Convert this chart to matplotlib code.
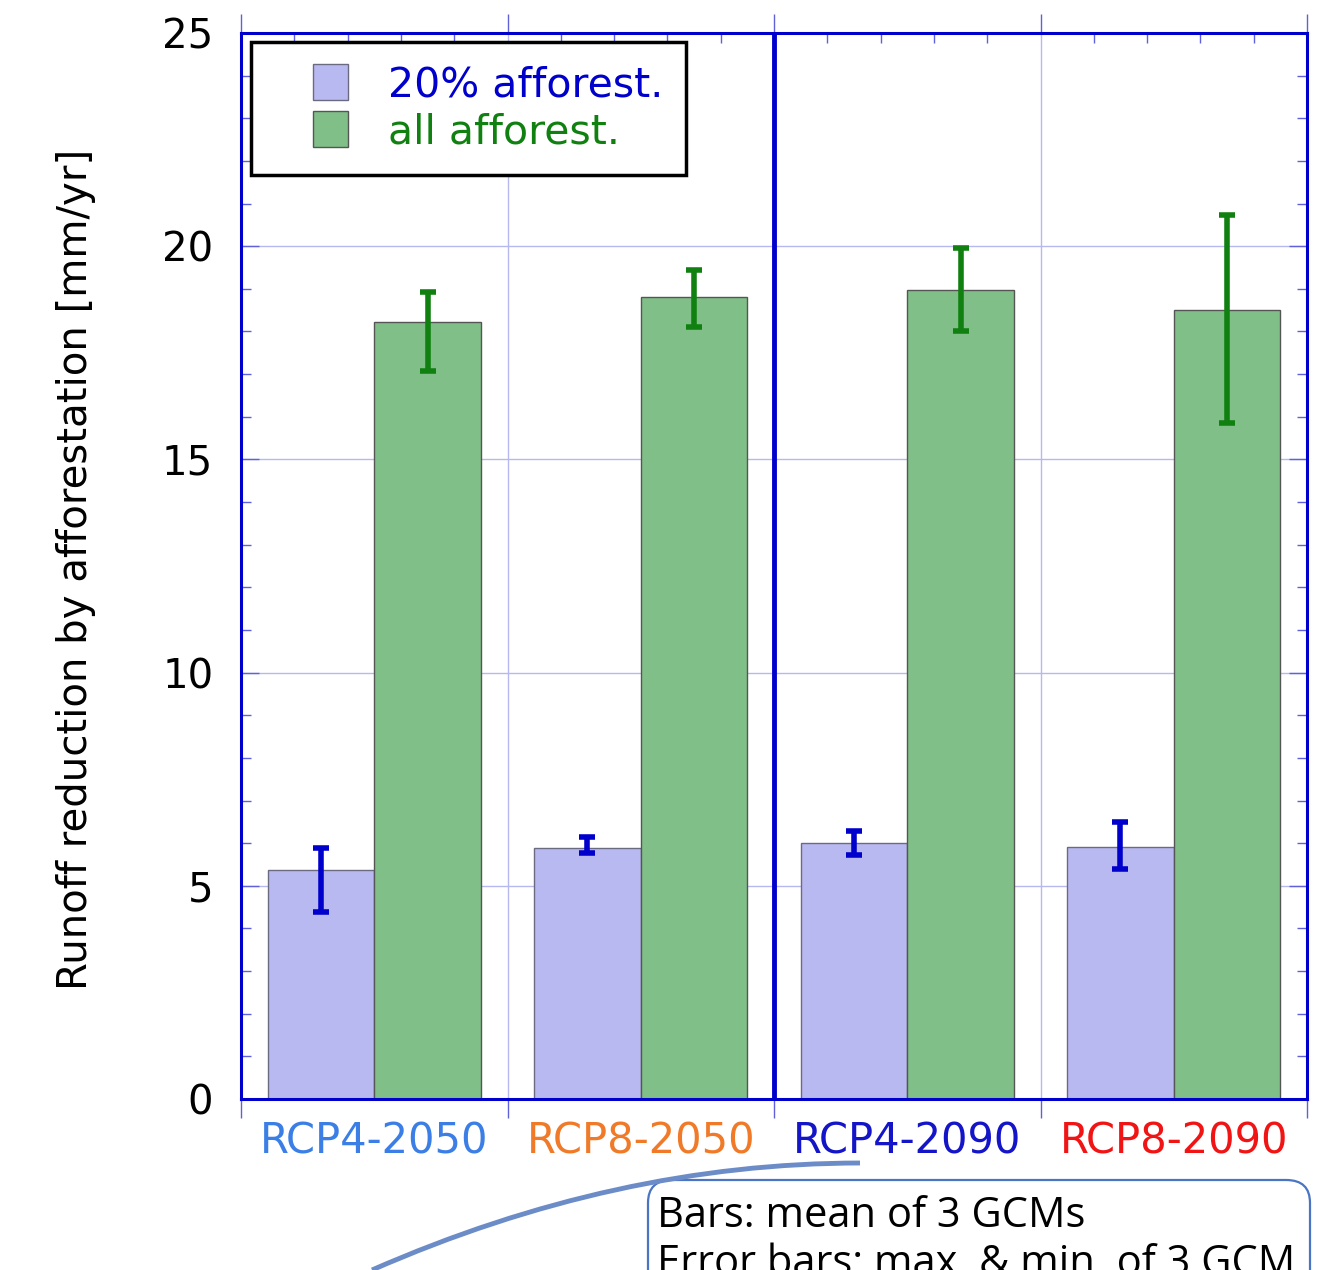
import numpy as np
import matplotlib
matplotlib.use("Agg")
import matplotlib.pyplot as plt
from matplotlib.patches import Patch, Rectangle, FancyBboxPatch, PathPatch
from matplotlib.legend_handler import HandlerPatch
from matplotlib.path import Path
from matplotlib.ticker import FixedLocator
import matplotlib.transforms as mtransforms

# data
cenarios = ["RCP4-2050", "RCP8-2050", "RCP4-2090", "RCP8-2090"]
cores_cenarios = ["#3b7ee6", "#f07a28", "#1414c8", "#f01414"]

media_20 = [5.36, 5.88, 6.00, 5.90]
max_20 = [5.88, 6.14, 6.29, 6.50]
min_20 = [4.38, 5.76, 5.72, 5.39]

media_all = [18.22, 18.81, 18.97, 18.50]
max_all = [18.93, 19.45, 19.95, 20.74]
min_all = [17.07, 18.10, 18.02, 15.86]

azul = "#0000cc"
verde = "#108010"

fig = plt.figure(figsize=(13.24, 12.70), dpi=100)
ax = fig.add_axes([241 / 1324, 171 / 1270, 1066 / 1324, 1066 / 1270])

x = np.arange(len(cenarios))
w = 0.4

# 1) barras
ax.bar(x - w / 2, media_20, width=w, color="#b9b9f2", edgecolor="#6a6a80",
       linewidth=1, zorder=2)
ax.bar(x + w / 2, media_all, width=w, color="#80c088", edgecolor="#555555",
       linewidth=1, zorder=2)

# 2) barras de erro (max / min)
m20 = np.array(media_20)
mal = np.array(media_all)
ax.errorbar(x - w / 2, m20, yerr=[m20 - np.array(min_20), np.array(max_20) - m20],
            fmt="none", ecolor=azul, elinewidth=4, capsize=6, capthick=4, zorder=3)
ax.errorbar(x + w / 2, mal, yerr=[mal - np.array(min_all), np.array(max_all) - mal],
            fmt="none", ecolor=verde, elinewidth=4, capsize=6, capthick=4, zorder=3)

# 3) eixos
ax.set_xlim(-0.5, 3.5)
ax.set_ylim(0, 25)
ax.set_xticks(np.arange(-0.5, 3.6, 1.0))
ax.set_xticklabels([])
ax.xaxis.set_minor_locator(FixedLocator(np.arange(-0.3, 3.5, 0.2)))
ax.set_yticks(np.arange(0, 26, 5))
ax.yaxis.set_minor_locator(FixedLocator(np.arange(0, 26, 1)))

ax.tick_params(axis="x", which="major", direction="out", length=14, width=1,
               color="#6060d8", top=True, bottom=True)
ax.tick_params(axis="x", which="minor", direction="in", length=7, width=1,
               color="#6060d8", top=True, bottom=True)
ax.tick_params(axis="y", which="major", direction="in", length=13, width=1,
               color="#6060d8", left=True, right=True, labelsize=29, pad=20)
ax.tick_params(axis="y", which="minor", direction="in", length=7, width=1,
               color="#6060d8", left=True, right=True)

ax.grid(True, which="major", color="#b8b8f0", linewidth=1, zorder=0)
ax.set_axisbelow(True)
ax.axvline(1.5, color=azul, linewidth=3.5, zorder=4)

for s in ax.spines.values():
    s.set_color(azul)
    s.set_linewidth(2.2)

# rótulos coloridos do eixo x
trans = mtransforms.blended_transform_factory(ax.transData, ax.transAxes)
for i, nome in enumerate(cenarios):
    ax.text(i, -0.040, nome, transform=trans, ha="center", va="center",
            fontsize=30, color=cores_cenarios[i])

fig.text(76 / 1324, 0.552, "Runoff reduction by afforestation [mm/yr]",
         rotation=90, ha="center", va="center", fontsize=29)


# 4) legenda (quadrado encostado à direita da área do handle)
def quadrado(legend, orig_handle, xdescent, ydescent, width, height, fontsize):
    return Rectangle((width - height - xdescent, -ydescent), height, height)


handles = [Patch(facecolor="#b9b9f2", edgecolor="#6a6a80"),
           Patch(facecolor="#80c088", edgecolor="#555555")]
leg = ax.legend(handles, ["20% afforest.", "all afforest."],
                loc="upper left", bbox_to_anchor=(0.0094, 0.9916),
                borderaxespad=0, fontsize=29.5, fancybox=False, framealpha=1,
                handlelength=1.82, handleheight=0.95, handletextpad=0.98,
                borderpad=0.55, labelspacing=0.15,
                handler_map={Patch: HandlerPatch(patch_func=quadrado)},
                labelcolor=[azul, verde])
leg.get_frame().set_edgecolor("black")
leg.get_frame().set_linewidth(2.5)
leg.set_zorder(5)

# 5) caixa de nota e curva (parte de baixo)
caixa = FancyBboxPatch((648 / 1324, -0.05), 662 / 1324, (1270 - 1180) / 1270 + 0.05,
                       boxstyle="round,pad=0,rounding_size=0.018",
                       transform=fig.transFigure, facecolor="white",
                       edgecolor="#4a74c4", linewidth=1.6)
fig.patches.append(caixa)
fig.text(657 / 1324, (1270 - 1216) / 1270, "Bars: mean of 3 GCMs",
         ha="left", va="center", fontsize=30, family="Open Sans")
fig.text(657 / 1324, (1270 - 1264) / 1270, "Error bars: max. & min. of 3 GCM",
         ha="left", va="center", fontsize=30, family="Open Sans")

pts = [(860, 1163), (616, 1163), (372, 1270)]
verts = [(px / 1324, (1270 - py) / 1270) for px, py in pts]
curva = PathPatch(Path(verts, [Path.MOVETO, Path.CURVE3, Path.CURVE3]),
                  transform=fig.transFigure, facecolor="none",
                  edgecolor="#6c8cc8", linewidth=3.5)
fig.patches.append(curva)

fig.savefig("out.png", dpi=100)
